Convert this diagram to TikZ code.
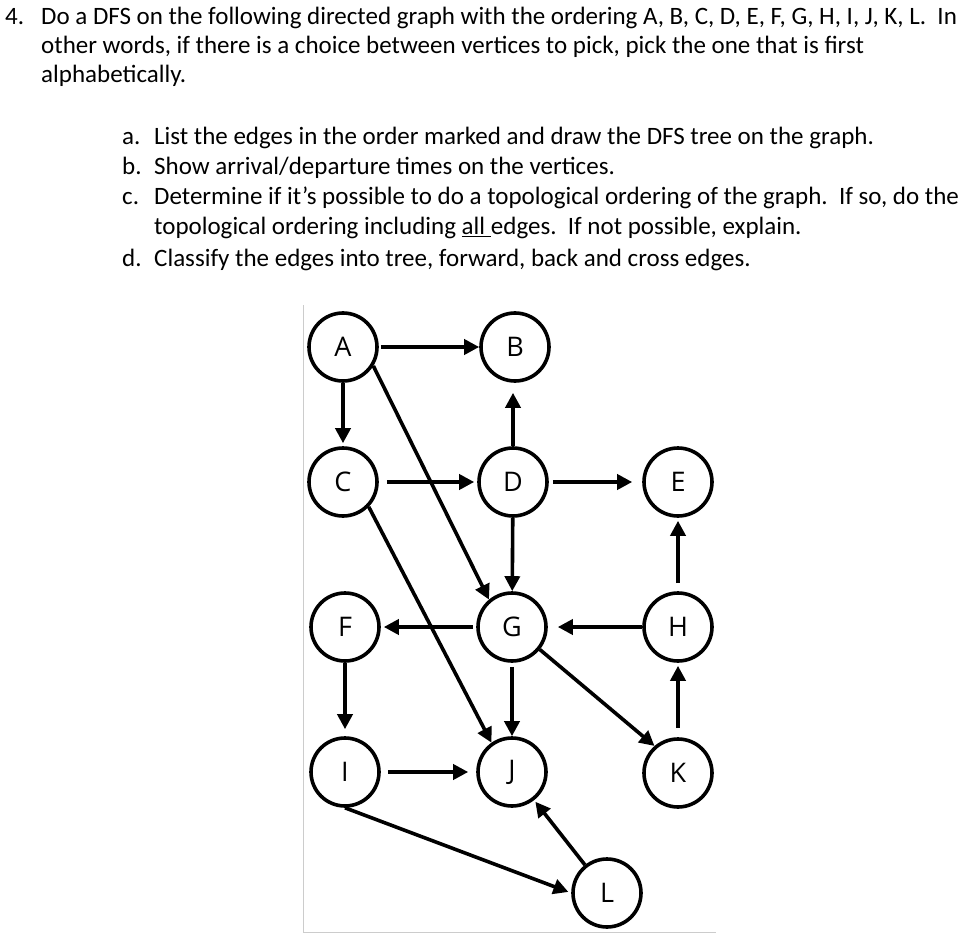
\documentclass[tikz,border=0pt]{standalone}
\usepackage{fontspec}
\setmainfont{Carlito}
\newfontfamily\labfont{Open Sans}
\usetikzlibrary{arrows.meta}
\begin{document}
\begin{tikzpicture}[x=1pt,y=-1pt,
  vert/.style={circle, draw, line width=3.6pt, minimum size=68pt, inner sep=0pt,
    font=\labfont\fontsize{27}{27}\selectfont},
  arr/.style={line width=3.6pt, -{Triangle[length=15pt,width=15pt]}},
  txt/.style={anchor=base west, inner sep=0pt, font=\fontsize{25}{28}\selectfont},
  framecol/.style={draw=black!20, line width=1pt}
]
\useasboundingbox (0,0) rectangle (961,936);
% question text
\node[txt] (n4) at (5,25) {4.};
\node[txt] (l1) at (41,25) {Do a DFS on the following directed graph with the ordering A, B, C, D, E, F, G, H, I, J, K, L.\ \ In};
\node[txt] (l2) at (41,54) {other words, if there is a choice between vertices to pick, pick the one that is first};
\node[txt] (l3) at (41,83) {alphabetically.};
\node[txt] (ia) at (122,145) {a.};
\node[txt] (ta) at (154,145) {List the edges in the order marked and draw the DFS tree on the graph.};
\node[txt] (ib) at (122,175) {b.};
\node[txt] (tb) at (154,175) {Show arrival/departure times on the vertices.};
\node[txt] (ic) at (122,205) {c.};
\node[txt] (tc) at (154,205) {Determine if it’s possible to do a topological ordering of the graph.\ \ If so, do the};
\node[txt] (tc2) at (154,235) {topological ordering including \underline{all }edges.\ \ If not possible, explain.};
\node[txt] (id) at (122,266) {d.};
\node[txt] (td) at (154,266) {Classify the edges into tree, forward, back and cross edges.};
% figure frame
\draw[framecol] (303,305) -- (303,932) -- (716,932);
\begin{scope}
\clip (0,0) rectangle (716,936);
\node[vert] (A) at (343,347) {A};
\node[vert] (B) at (515,347) {B};
\node[vert] (C) at (343,482) {C};
\node[vert] (D) at (513,482) {D};
\node[vert] (E) at (678,482) {E};
\node[vert] (F) at (345,627) {F};
\node[vert] (G) at (512,627) {G};
\node[vert] (H) at (678,627) {H};
\node[vert] (I) at (345,772) {I};
\node[vert] (J) at (512,772) {J};
\node[vert] (K) at (678,773) {K};
\node[vert] (L) at (607,893) {L};
\draw[arr, shorten <=2pt] (A) -- (B);
\draw[arr, shorten >=3pt] (A) -- (C);
\draw[arr] (A.-32) -- (G.130);
\draw[arr, shorten <=8pt, shorten >=3pt] (C) -- (D);
\draw[arr] (C.-44) -- (J.125);
\draw[arr, shorten >=10pt] (D.north) -- (D.north |- B.south);
\draw[arr, shorten <=4pt, shorten >=10pt] (D) -- (E);
\draw[arr] (D) -- (G);
\draw[arr, shorten <=3pt, shorten >=3pt] (G) -- (F);
\draw[arr, shorten >=10pt] (H) -- (G);
\draw[arr, shorten <=8pt, shorten >=3pt] (H) -- (E);
\draw[arr, shorten <=4pt] (G) -- (J);
\draw[arr] (G.-39) -- (K.131);
\draw[arr, shorten <=9pt, shorten >=3pt] (K) -- (H);
\draw[arr, shorten >=7pt] (F) -- (I);
\draw[arr, shorten <=7pt, shorten >=8pt] (I) -- (J);
\draw[arr, shorten >=3pt] (I.south) -- (L.west);
\draw[arr, shorten >=2pt] (L) -- (J);
\end{scope}
\end{tikzpicture}
\end{document}
